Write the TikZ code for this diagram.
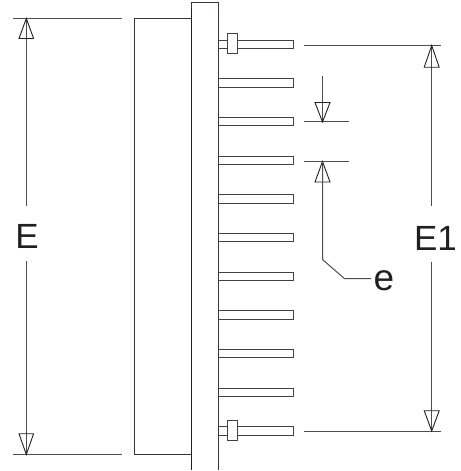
\documentclass[tikz,border=0pt]{standalone}
\usepackage{fontspec}
\setmainfont{Liberation Sans}
\definecolor{ink}{HTML}{231F20}
\tikzset{
  every path/.style={line width=1bp, draw=ink!90},
  heavy/.style={line width=1.6bp, draw=ink},
  pinbar/.style={line width=1bp, draw=ink!85, fill=white},
  dimline/.style={line width=1bp, draw=ink!80},
  tip/.style={line width=0.9bp, draw=ink, line join=miter},
  bigtext/.style={font=\fontsize{35bp}{35bp}\selectfont, text=ink, inner sep=0pt, anchor=base, draw=none}
}
\begin{document}
\begin{tikzpicture}[x=1bp,y=-1bp]
\path[draw=none,use as bounding box] (0,0) rectangle (461,471);
% pins
\foreach \y in {44.3,83,121.7,160.4,199,237.7,276.4,315,353.7,392.4,431}{
  \draw[pinbar] (218,\y-4.2) -- (293,\y-4.2) -- (293,\y+4.2) -- (218,\y+4.2);
}
\draw[pinbar] (227,33.5) rectangle (237,54);
\draw[pinbar] (227,420.3) rectangle (237,440.5);
% body and plate
\draw (191.5,18.5) -- (134,18.5) -- (134,454.5) -- (191.5,454.5);
\draw[heavy] (191.5,9) -- (191.5,470);
\draw (191.5,9) -- (191.5,3) -- (218,3) -- (218,470);
% extension lines
\draw[dimline] (13,18.5) -- (122,18.5);
\draw[dimline] (13,454.5) -- (122,454.5);
\draw[dimline] (304,45.5) -- (441,45.5);
\draw[dimline] (304,431) -- (441,431);
\draw[dimline] (304,122) -- (349,122);
\draw[dimline] (304,161.5) -- (349,161.5);
% labels
\node[bigtext] (labE) at (27,248) {E};
\node[bigtext] (labEone) at (435.5,250) {E1};
\node[bigtext,font=\fontsize{37bp}{37bp}\selectfont] (labe) at (384,290) {e};
% coordinates
\coordinate (Et) at (26.3,18.5);
\coordinate (Eb) at (26.3,454.5);
\coordinate (Ft) at (431.7,45.5);
\coordinate (Fb) at (431.7,431);
% E dimension
\draw[dimline] (Et) -- (26.3,206.5);
\draw[dimline] (26.3,261) -- (Eb);
\draw[tip] (Et) -- (19,38.5) -- (33.6,38.5) -- cycle;
\draw[tip] (Eb) -- (19,433.7) -- (33.6,433.7) -- cycle;
% E1 dimension
\draw[dimline] (Ft) -- (431.7,206.5);
\draw[dimline] (431.7,261.5) -- (Fb);
\draw[tip] (Ft) -- (424.2,67.3) -- (439.2,67.3) -- cycle;
\draw[tip] (Fb) -- (424.2,410.7) -- (439.2,410.7) -- cycle;
% e dimension
\coordinate (et) at (322.5,122);
\coordinate (eb) at (322.5,161.5);
\draw[dimline] (322.5,76) -- (et);
\draw[tip] (et) -- (315,102.5) -- (330,102.5) -- cycle;
\draw[tip] (eb) -- (315,182) -- (330,182) -- cycle;
\draw[dimline] (eb) -- (322.5,259.5) -- (344.3,278.5) -- (371,278.5);
\end{tikzpicture}
\end{document}
